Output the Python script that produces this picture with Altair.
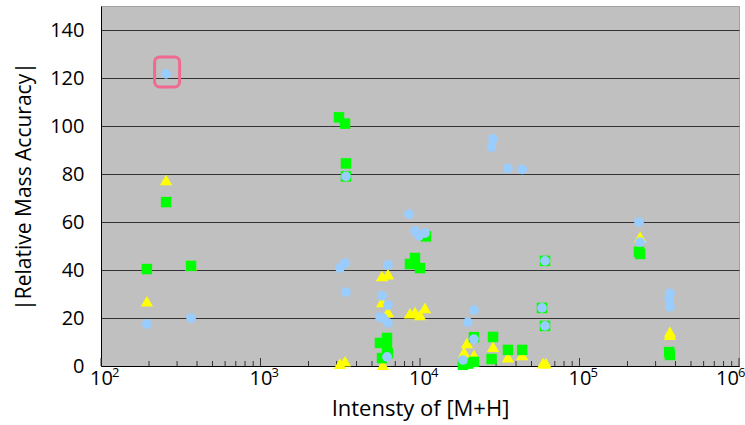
import altair as alt
import pandas as pd

# ---- data ----
green_x = [194, 256, 367, 3105, 3388, 3435, 3435,
           5610, 6210, 6210, 5780, 6300,
           9300, 8650, 10000, 10900,
           18600, 21800, 20000, 21800,
           28700, 28100, 35600, 43700,
           60800, 58200, 60800,
           236000, 240000, 365000, 369000]
green_y = [40.4, 68.3, 41.7, 103.6, 101, 84.4, 79,
           9.6, 11.7, 7.5, 3.3, 5.4,
           45, 42.5, 40.8, 54,
           0.5, 1.7, 1, 12,
           12.1, 2.9, 6.7, 6.7,
           43.8, 24.2, 16.7,
           47.6, 46.7, 5.8, 4.6]

yellow_x = [194, 256, 367, 3150, 3388,
            5780, 6300, 5780, 6300, 5860, 6300,
            8650, 9300, 10000, 10740,
            19700, 18900, 21800,
            28700, 35600, 43700,
            59000, 61500,
            240000, 369000, 369000]
yellow_y = [27, 77.5, 42, 1, 2,
            37.5, 38.3, 26.7, 22.5, 0.5, 8.8,
            22, 22.5, 21.3, 24.2,
            9.6, 5.8, 4.6,
            8, 3.7, 4.6,
            1.2, 1.2,
            53.8, 14.2, 13]

blue_x = [194, 256, 367, 3150, 3388, 3435, 3435,
          6300, 5780, 6300, 5610, 5860, 6300, 6210,
          8530, 9300, 9860, 10740,
          21800, 19950, 21800, 18600,
          28700, 28100, 35600, 43700,
          60800, 58200, 60800,
          236000, 240000, 369000, 365000, 369000]
blue_y = [17.5, 121.7, 20, 40.8, 42.9, 30.8, 79,
          42.1, 29.2, 25.4, 20.4, 20, 18, 3.8,
          63.3, 56.3, 54.2, 55.4,
          23.3, 18.2, 11.2, 2.5,
          94.6, 91.2, 82.3, 81.9,
          43.8, 24.2, 16.7,
          60, 51.6, 30.3, 28, 24.7]

highlight_x = [256]
highlight_y = [121.7]

y_ticks = [0, 20, 40, 60, 80, 100, 120, 140]
decades = [100, 1000, 10000, 100000, 1000000]
exponents = ["2", "3", "4", "5", "6"]
minor_ticks = [m * d for d in [100, 1000, 10000, 100000] for m in range(2, 10)]

# ---- tables ----
df = pd.concat([
    pd.DataFrame({"x": yellow_x, "y": yellow_y, "series": "yellow"}),
    pd.DataFrame({"x": green_x, "y": green_y, "series": "green"}),
    pd.DataFrame({"x": blue_x, "y": blue_y, "series": "blue"}),
], ignore_index=True)
hl = pd.DataFrame({"x": highlight_x, "y": highlight_y})
dec_df = pd.DataFrame({"t": decades, "e": exponents})
minor_df = pd.DataFrame({"t": minor_ticks})

FONT = "Open Sans"
xscale = alt.Scale(type="log", domain=[100, 1000000])
yscale = alt.Scale(domain=[0, 150])

xaxis = alt.Axis(values=decades, labelExpr="'10'", title="Intensty of [M+H]",
                 grid=False, ticks=False, domainColor="black", labelPadding=2,
                 labelFlush=False, labelOverlap=False, labelBound=False,
                 labelOffset={"condition": {"test": "datum.value >= 1000000", "value": -12},
                              "value": 0},
                 labelFont=FONT, labelFontSize=20, labelColor="black",
                 titleFont=FONT, titleFontSize=22, titleFontWeight="normal",
                 titleColor="black", titleX=319, titleY=42, titleBaseline="middle")
yaxis = alt.Axis(values=y_ticks, title="|Relative Mass Accuracy|", grid=True,
                 gridColor="#333333", gridWidth=1, ticks=False, domainColor="black",
                 labelPadding=17, labelFont=FONT, labelFontSize=20, labelColor="black",
                 labelFlush=False,
                 titleFont=FONT, titleFontSize=21, titleFontWeight="normal",
                 titleColor="black", titleX=-77, titleY=180, titleAngle=270,
                 titleBaseline="middle", titleAlign="center")

X = alt.X("x:Q", scale=xscale, axis=xaxis)
Y = alt.Y("y:Q", scale=yscale, axis=yaxis)
XT = alt.X("t:Q", scale=xscale, axis=xaxis)

major_ticks = alt.Chart(dec_df).mark_rule(color="#333333", strokeWidth=1).encode(
    x=XT, y=alt.value(360), y2=alt.value(352))
minor_tick_layer = alt.Chart(minor_df).mark_rule(color="#333333", strokeWidth=1).encode(
    x=XT, y=alt.value(360), y2=alt.value(355))


def pts(name, shape, color, size):
    return alt.Chart(df).transform_filter(alt.datum.series == name).mark_point(
        shape=shape, filled=True, color=color, fill=color, size=size,
        opacity=1, strokeWidth=0).encode(x=X, y=Y)


yellow = pts("yellow", "triangle-up", "#ffff00", 150)
green = pts("green", "square", "#00ff00", 110)
blue = pts("blue", "circle", "#99ccff", 95)

rr = ("M -0.5 -1 L 0.5 -1 A 0.333 0.333 0 0 1 0.833 -0.667 L 0.833 0.667 "
      "A 0.333 0.333 0 0 1 0.5 1 L -0.5 1 A 0.333 0.333 0 0 1 -0.833 0.667 "
      "L -0.833 -0.667 A 0.333 0.333 0 0 1 -0.5 -1 Z")
box = alt.Chart(hl).mark_point(shape=rr, size=900, filled=False, stroke="#f06a8f",
                               strokeWidth=3, opacity=1, yOffset=-2, xOffset=1).encode(x=X, y=Y)

expo_main = alt.Chart(dec_df).transform_filter(alt.datum.t < 1000000).mark_text(
    font=FONT, fontSize=13, color="black", align="left", baseline="middle", dx=11).encode(
    x=XT, y=alt.value(367), text="e:N")
expo_last = alt.Chart(dec_df).transform_filter(alt.datum.t >= 1000000).mark_text(
    font=FONT, fontSize=13, color="black", align="left", baseline="middle", dx=-1).encode(
    x=XT, y=alt.value(367), text="e:N")

chart = alt.layer(major_ticks, minor_tick_layer, yellow, green, blue, box,
                  expo_main, expo_last).properties(
    width=638, height=360,
    autosize=alt.AutoSizeParams(type="none"),
    padding={"left": 101, "top": 6, "right": 6, "bottom": 59},
    background="white",
).configure_view(fill="#c0c0c0", stroke="#a0a0a0", strokeWidth=1)

chart.save("out.html", embed_options={"renderer": "svg", "actions": False})
